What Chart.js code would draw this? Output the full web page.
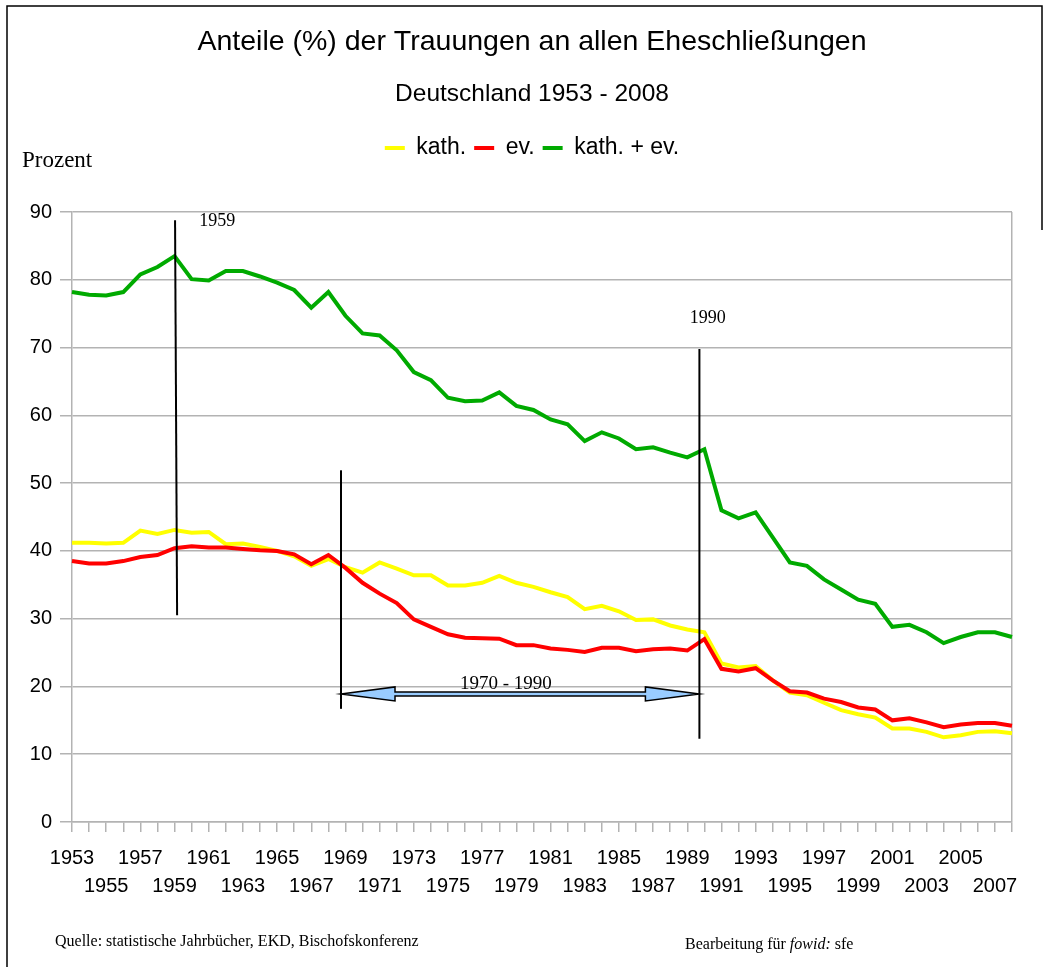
<!DOCTYPE html>
<html>
<head>
<meta charset="utf-8">
<script src="https://cdn.jsdelivr.net/npm/chart.js@4.4.1/dist/chart.umd.min.js"></script>
<style>
html, body { margin: 0; padding: 0; background: #ffffff; }
#wrap { position: relative; width: 1056px; height: 967px; }
canvas { display: block; }
</style>
</head>
<body>
<div id="wrap"><canvas id="chart" width="1056" height="967"></canvas></div>
<script>
// ---- data ----
const years = [
  '1953','1954','1955','1956','1957','1958','1959','1960','1961','1962',
  '1963','1964','1965','1966','1967','1968','1969','1970','1971','1972',
  '1973','1974','1975','1976','1977','1978','1979','1980','1981','1982',
  '1983','1984','1985','1986','1987','1988','1989','1990','1991','1992',
  '1993','1994','1995','1996','1997','1998','1999','2000','2001','2002',
  '2003','2004','2005','2006','2007','2008'
];
const kath = [
  41.2, 41.2, 41.1, 41.2, 43.0, 42.5, 43.1, 42.7, 42.8, 41.0,
  41.1, 40.6, 40.0, 39.2, 37.8, 38.8, 37.6, 36.8, 38.3, 37.4,
  36.4, 36.4, 34.9, 34.9, 35.3, 36.3, 35.3, 34.7, 33.9, 33.2,
  31.4, 31.9, 31.1, 29.8, 29.9, 29.0, 28.4, 28.0, 23.4, 22.8,
  23.0, 20.9, 19.1, 18.7, 17.6, 16.5, 15.9, 15.4, 13.8, 13.8,
  13.3, 12.5, 12.8, 13.3, 13.4, 13.1
];
const ev = [
  38.5, 38.15, 38.15, 38.5, 39.1, 39.4, 40.4, 40.7, 40.5, 40.5,
  40.3, 40.1, 40.0, 39.5, 38.05, 39.4, 37.5, 35.3, 33.7, 32.3,
  29.9, 28.8, 27.7, 27.2, 27.1, 27.05, 26.1, 26.1, 25.6, 25.4,
  25.1, 25.7, 25.7, 25.2, 25.5, 25.6, 25.3, 27.0, 22.6, 22.2,
  22.7, 20.9, 19.3, 19.1, 18.2, 17.7, 16.9, 16.6, 15.0, 15.3,
  14.7, 14.0, 14.4, 14.6, 14.6, 14.2
];
const kathEv = [
  78.2, 77.8, 77.7, 78.2, 80.8, 81.9, 83.5, 80.1, 79.9, 81.3,
  81.3, 80.5, 79.6, 78.5, 75.9, 78.2, 74.7, 72.1, 71.8, 69.6,
  66.4, 65.2, 62.6, 62.1, 62.2, 63.4, 61.4, 60.8, 59.4, 58.7,
  56.2, 57.5, 56.6, 55.0, 55.3, 54.5, 53.8, 55.0, 46.0, 44.8,
  45.7, 42.0, 38.3, 37.8, 35.8, 34.3, 32.8, 32.2, 28.8, 29.1,
  28.0, 26.4, 27.3, 28.0, 28.0, 27.3
];
const seriesNames = ['kath.', 'ev.', 'kath. + ev.'];
const yMin = 0, yMax = 90, yStep = 10;

// annotation texts (positions given in data units: category index / percent)
const titleText = 'Anteile (%) der Trauungen an allen Eheschließungen';
const subtitleText = 'Deutschland 1953 - 2008';
const yLabelText = 'Prozent';
const sourceText = 'Quelle: statistische Jahrbücher, EKD, Bischofskonferenz';
const markerLines = [
  { text: '1959', x1: 6.03, x2: 6.15, yTop: 88.8, yBottom: 30.5, tx: 7.45, ty: 88.6 },
  { text: '1990', x1: 36.71, x2: 36.71, yTop: 69.8, yBottom: 12.3, tx: 36.15, ty: 74.3 },
  { text: '', x1: 15.74, x2: 15.74, yTop: 51.9, yBottom: 16.7 }
];
const rangeArrow = { text: '1970 - 1990', from: 15.74, to: 36.71, y: 18.9, tx: 22.7, ty: 20.4 };

const fontSans = "'Liberation Sans', Arial, 'DejaVu Sans', sans-serif";
const fontSerif = "'Liberation Serif', 'Times New Roman', 'DejaVu Serif', serif";
const gridGray = '#b3b3b3';

const deco = {
  id: 'deco',
  afterDatasetsDraw(chart) {
    const { ctx } = chart;
    const x = chart.scales.x, y = chart.scales.y;
    ctx.save();
    // marker lines
    ctx.strokeStyle = '#000000';
    ctx.lineWidth = 2;
    markerLines.forEach(m => {
      ctx.beginPath();
      ctx.moveTo(x.getPixelForValue(m.x1), y.getPixelForValue(m.yTop));
      ctx.lineTo(x.getPixelForValue(m.x2), y.getPixelForValue(m.yBottom));
      ctx.stroke();
    });
    // double arrow
    const ax1 = x.getPixelForValue(rangeArrow.from);
    const ax2 = x.getPixelForValue(rangeArrow.to);
    const ay = y.getPixelForValue(rangeArrow.y);
    const hl = 54, hw = 7, sw = 2;
    ctx.beginPath();
    ctx.moveTo(ax1, ay);
    ctx.lineTo(ax1 + hl, ay - hw);
    ctx.lineTo(ax1 + hl, ay - sw);
    ctx.lineTo(ax2 - hl, ay - sw);
    ctx.lineTo(ax2 - hl, ay - hw);
    ctx.lineTo(ax2, ay);
    ctx.lineTo(ax2 - hl, ay + hw);
    ctx.lineTo(ax2 - hl, ay + sw);
    ctx.lineTo(ax1 + hl, ay + sw);
    ctx.lineTo(ax1 + hl, ay + hw);
    ctx.closePath();
    ctx.fillStyle = '#99ccff';
    ctx.fill();
    ctx.lineWidth = 1.5;
    ctx.strokeStyle = '#000000';
    ctx.stroke();

    // annotation texts
    ctx.fillStyle = '#000000';
    ctx.textBaseline = 'middle';
    ctx.textAlign = 'left';
    ctx.font = '18px ' + fontSerif;
    markerLines.forEach(m => {
      if (m.text) ctx.fillText(m.text, x.getPixelForValue(m.tx), y.getPixelForValue(m.ty));
    });
    ctx.font = '19px ' + fontSerif;
    ctx.fillText(rangeArrow.text, x.getPixelForValue(rangeArrow.tx), y.getPixelForValue(rangeArrow.ty));
    ctx.restore();
  },
  afterDraw(chart) {
    const { ctx } = chart;
    ctx.save();
    // outer frame
    ctx.strokeStyle = '#000000';
    ctx.lineWidth = 1.5;
    ctx.beginPath();
    ctx.moveTo(7, 967);
    ctx.lineTo(7, 6);
    ctx.lineTo(1042, 6);
    ctx.lineTo(1042, 230);
    ctx.stroke();
    // y label
    ctx.fillStyle = '#000000';
    ctx.textBaseline = 'middle';
    ctx.textAlign = 'left';
    ctx.font = '23px ' + fontSerif;
    ctx.fillText(yLabelText, 22, 161);
    // footer
    ctx.font = '16px ' + fontSerif;
    ctx.fillText(sourceText, 55, 942);
    const p1 = 'Bearbeitung für ';
    const p2 = 'fowid:';
    const p3 = ' sfe';
    let fx = 685;
    ctx.fillText(p1, fx, 945);
    fx += ctx.measureText(p1).width;
    ctx.font = 'italic 16px ' + fontSerif;
    ctx.fillText(p2, fx, 945);
    fx += ctx.measureText(p2).width;
    ctx.font = '16px ' + fontSerif;
    ctx.fillText(p3, fx, 945);
    ctx.restore();
  }
};

Chart.defaults.color = '#000000';
Chart.defaults.font.family = fontSans;

const lineDs = (label, data, color, order) => ({
  label, data,
  borderColor: color,
  backgroundColor: color,
  borderWidth: 4,
  pointRadius: 0,
  pointHoverRadius: 0,
  tension: 0,
  fill: false,
  order,
  xAxisID: 'x',
  yAxisID: 'y'
});

new Chart(document.getElementById('chart'), {
  type: 'line',
  data: {
    labels: years,
    datasets: [
      lineDs(seriesNames[0], kath, '#ffff00', 2),
      lineDs(seriesNames[1], ev, '#ff0000', 1),
      lineDs(seriesNames[2], kathEv, '#00aa00', 0)
    ]
  },
  options: {
    responsive: false,
    devicePixelRatio: 1,
    animation: false,
    events: [],
    layout: { padding: { top: 0, left: 52, right: 44, bottom: 67 } },
    plugins: {
      tooltip: { enabled: false },
      title: {
        display: true,
        text: titleText,
        color: '#000000',
        font: { size: 28.5, weight: 'normal', family: fontSans },
        padding: { top: 25, bottom: 0 }
      },
      subtitle: {
        display: true,
        text: subtitleText,
        color: '#000000',
        font: { size: 24.5, weight: 'normal', family: fontSans },
        padding: { top: 20, bottom: 20 }
      },
      legend: {
        display: true,
        position: 'top',
        labels: {
          color: '#000000',
          font: { size: 23, family: fontSans },
          boxWidth: 20,
          boxHeight: 4,
          padding: 8,
          sort: (a, b) => a.datasetIndex - b.datasetIndex,
          generateLabels(chart) {
            const items = Chart.defaults.plugins.legend.labels.generateLabels(chart);
            items.forEach(it => { it.lineWidth = 0; });
            return items;
          }
        }
      }
    },
    scales: {
      x: {
        type: 'category',
        position: 'bottom',
        offset: false,
        grid: {
          display: true,
          drawOnChartArea: true,
          drawTicks: true,
          tickLength: 10,
          color: (c) => (c.index === years.length - 1 ? gridGray : 'rgba(0,0,0,0)'),
          tickColor: gridGray,
          lineWidth: 1.5
        },
        border: { display: true, color: gridGray, width: 1.5 },
        ticks: {
          autoSkip: false,
          maxRotation: 0,
          minRotation: 0,
          padding: 12,
          color: '#000000',
          font: { size: 20, lineHeight: 1.4, family: fontSans },
          callback: function (value, index) {
            if (index % 2 !== 0) return '';
            const lbl = this.getLabelForValue(value);
            return index % 4 === 0 ? [lbl, ''] : ['', lbl];
          }
        },
        afterFit: (s) => { s.height = 78; }
      },
      xTop: {
        type: 'category',
        position: 'top',
        display: true,
        grid: { display: false },
        border: { display: false },
        ticks: { display: false },
        afterFit: (s) => { s.height = 42.5; }
      },
      y: {
        type: 'linear',
        min: yMin,
        max: yMax,
        grid: {
          color: gridGray,
          lineWidth: 1.5,
          tickLength: 12,
          drawTicks: true
        },
        border: { display: true, color: gridGray, width: 1.5 },
        ticks: {
          stepSize: yStep,
          mirror: true,
          crossAlign: 'far',
          padding: -42.24,
          color: '#000000',
          font: { size: 20, family: fontSans }
        },
        afterFit: (s) => { s.width = 20; }
      }
    }
  },
  plugins: [deco]
});
</script>
</body>
</html>
